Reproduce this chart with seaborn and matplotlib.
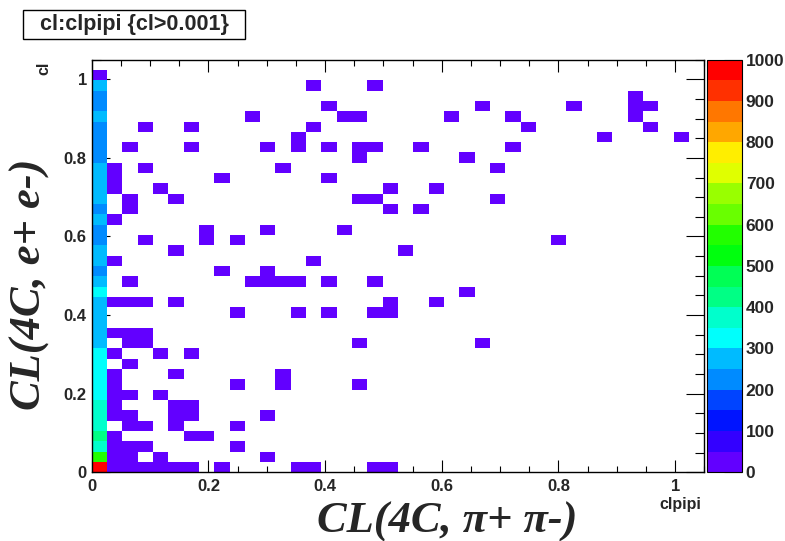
import numpy as np
import pandas as pd
import matplotlib
matplotlib.use("Agg")
import matplotlib.pyplot as plt
from matplotlib.colors import ListedColormap
from matplotlib.patches import Rectangle
from matplotlib.ticker import MultipleLocator, FixedLocator
import seaborn as sns

# ---------------- data ----------------
n_bins = 40
axis_max = 1.05

# counts in the first clpipi bin, for cl bins 0..38 (bottom to top)
first_col_counts = [975, 575, 375, 425, 375, 375, 375, 325, 325, 325,
                    325, 325, 275, 275, 275, 275, 275, 325, 275, 225,
                    275, 275, 225, 225, 275, 225, 275, 275, 275, 275,
                    225, 225, 225, 225, 275, 225, 225, 275, 10]

# sparse cells: for each cl bin (row), the clpipi bins holding a few entries
sparse_rows = {
    0: [1, 2, 3, 4, 5, 6, 8, 13, 14, 18, 19],
    1: [1, 2, 4, 11],
    2: [1, 2, 3, 9],
    3: [1, 6, 7],
    4: [2, 3, 5, 9],
    5: [1, 2, 5, 6, 11],
    6: [1, 5, 6],
    7: [1, 2, 4],
    8: [1, 9, 12, 17],
    9: [1, 5, 12],
    10: [2],
    11: [1, 4, 6],
    12: [2, 3, 17, 25],
    13: [1, 2, 3],
    15: [9, 13, 15, 18, 19],
    16: [1, 2, 3, 5, 19, 22],
    17: [24],
    18: [2, 10, 11, 12, 13, 15, 18],
    19: [8, 11],
    20: [1, 14],
    21: [5, 20],
    22: [3, 7, 9, 30],
    23: [7, 11, 16],
    24: [1],
    25: [2, 19, 21],
    26: [2, 5, 17, 18, 26],
    27: [1, 4, 19, 22],
    28: [1, 8, 15],
    29: [1, 3, 12, 26],
    30: [17, 24],
    31: [2, 6, 11, 13, 15, 17, 18, 21, 27],
    32: [13, 33, 38],
    33: [3, 6, 14, 28, 36],
    34: [10, 16, 17, 23, 27, 35],
    35: [15, 25, 31, 35, 36],
    36: [35],
    37: [14, 18],
}
sparse_count = 2

z_min, z_max = 0, 1000
z_ticks = list(range(0, 1001, 100))
x_ticks = [0, 0.2, 0.4, 0.6, 0.8, 1.0]
x_ticklabels = ["0", "0.2", "0.4", "0.6", "0.8", "1"]
y_ticks = [0, 0.2, 0.4, 0.6, 0.8, 1.0]
y_ticklabels = ["0", "0.2", "0.4", "0.6", "0.8", "1"]

# ROOT-like palette for 20 contour levels (each 50 wide)
level_colors = ["#6200ff", "#3300ff", "#0014ff", "#0044ff", "#008bff",
                "#00bbff", "#00fffc", "#00ffcc", "#00ff85", "#00ff55",
                "#00ff0e", "#22ff00", "#69ff00", "#99ff00", "#e0ff00",
                "#ffee00", "#ffa700", "#ff7700", "#ff3000", "#ff0000"]

# ---------------- build table ----------------
bw = axis_max / n_bins
xs, ys, ws = [], [], []
for k, c in enumerate(first_col_counts):
    xs.append(0.5 * bw); ys.append((k + 0.5) * bw); ws.append(c)
for k, cols in sparse_rows.items():
    for j in cols:
        xs.append((j + 0.5) * bw); ys.append((k + 0.5) * bw); ws.append(sparse_count)
df = pd.DataFrame({"clpipi": xs, "cl": ys, "count": ws})

# ---------------- plot ----------------
sns.set_theme(style="ticks")
plt.rcParams['font.family'] = ['Liberation Sans', 'DejaVu Sans']
plt.rcParams['font.weight'] = 'bold'

W, H = 785, 541
fig = plt.figure(figsize=(W / 100, H / 100), dpi=100)
L, R, T, B = 91.7, 704.3, 59.6, 472.3
ax = fig.add_axes([L / W, 1 - B / H, (R - L) / W, (B - T) / H])
cax = fig.add_axes([707.3 / W, 1 - B / H, 35 / W, (B - T) / H])

cmap = ListedColormap(level_colors)

sns.histplot(data=df, x="clpipi", y="cl", weights="count", bins=n_bins,
             binrange=((0, axis_max), (0, axis_max)), cmap=cmap,
             vmin=z_min, vmax=z_max,
             cbar=True, cbar_ax=cax, ax=ax)

mesh = ax.collections[0]
mesh.set_clim(z_min, z_max)

ax.set_xlim(0, axis_max)
ax.set_ylim(0, axis_max)
ax.set_xlabel("")
ax.set_ylabel("")
ax.set_xticks(x_ticks)
ax.set_xticklabels(x_ticklabels)
ax.set_yticks(y_ticks)
ax.set_yticklabels(y_ticklabels)
ax.xaxis.set_minor_locator(MultipleLocator(0.05))
ax.yaxis.set_minor_locator(MultipleLocator(0.05))
ax.tick_params(which='both', direction='in', top=True, right=True,
               color='black', width=0.8)
ax.tick_params(axis='x', which='major', length=8.6, labelsize=12, pad=4.5)
ax.tick_params(axis='x', which='minor', length=4.3)
ax.tick_params(axis='y', which='major', length=13, labelsize=12, pad=3.5)
ax.tick_params(axis='y', which='minor', length=6.5)
for s in ax.spines.values():
    s.set_visible(True)
    s.set_linewidth(1.0)
    s.set_color('black')
ax.grid(False)

cb = mesh.colorbar
cb.set_ticks(z_ticks)
cb.ax.yaxis.set_minor_locator(FixedLocator([]))
cax.tick_params(axis='y', direction='in', length=13, width=0.8, right=True,
                left=False, labelright=True, labelleft=False, labelsize=12.5, pad=2.5)
cb.outline.set_linewidth(0.8)
cb.outline.set_edgecolor('black')

# axis titles
fig.text(447 / W, 1 - 522 / H, "CL(4C, π+ π-)", family=['Liberation Serif', 'DejaVu Serif'],
         style='italic', weight='bold', size=32, ha='center', va='center')
fig.text(30 / W, 1 - 284 / H, "CL(4C, e+ e-)", family=['Liberation Serif', 'DejaVu Serif'],
         style='italic', weight='bold', size=32, ha='center', va='center', rotation=90)

fig.text(680 / W, 1 - 504 / H, "clpipi", size=11.5, weight='bold', ha='center', va='center')
fig.text(44 / W, 1 - 68 / H, "cl", size=11.5, weight='bold', ha='center', va='center', rotation=90)

# title box
fig.add_artist(Rectangle((22.7 / W, 1 - 39 / H), (245 - 22.7) / W, 29 / H,
                         transform=fig.transFigure, facecolor='white',
                         edgecolor='black', linewidth=1.0))
fig.text(134.5 / W, 1 - 24.5 / H, "cl:clpipi {cl>0.001}", size=15.5, weight='bold',
         ha='center', va='center')

fig.savefig("out.png", dpi=100)
